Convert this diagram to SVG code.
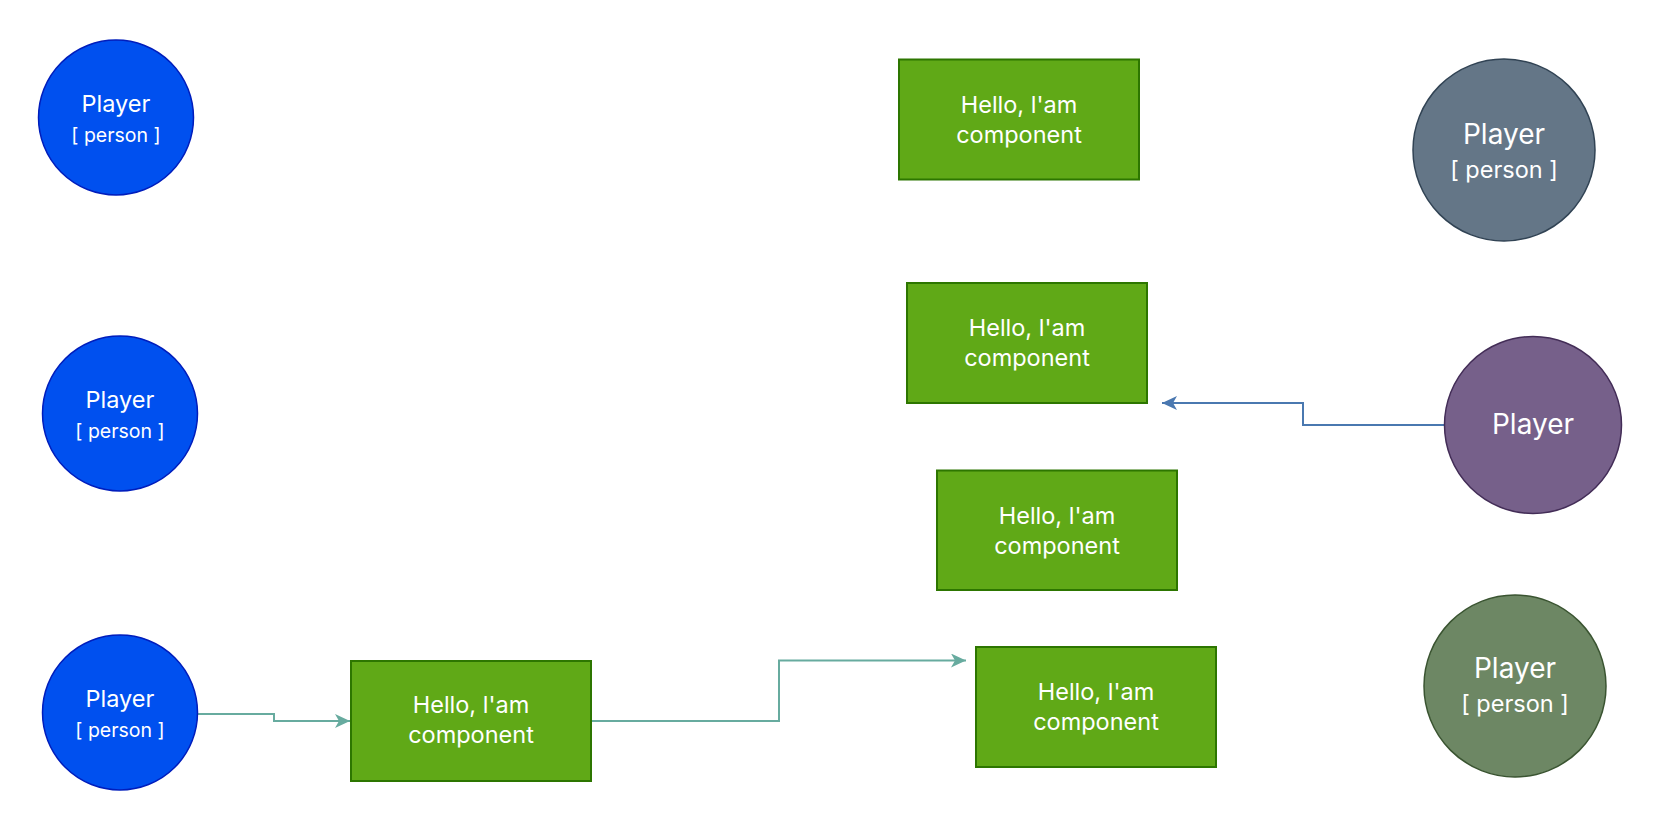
<svg xmlns="http://www.w3.org/2000/svg" width="1660" height="824" viewBox="0 0 1660 824">
<defs>
<style>
text{font-family:Inter,"Noto Sans","Liberation Sans",sans-serif;fill:#ffffff;text-anchor:middle}
.comp rect{fill:#60a917;stroke:#2d7600;stroke-width:2}
.comp text{font-size:23.5px}
.pb circle{fill:#0050ef;stroke:#001dbc;stroke-width:1.5}
.ps{font-size:23.5px}
.pss{font-size:19.5px}
.pl{font-size:28px}
.pls{font-size:23.5px}
.conn path{fill:none;stroke-width:2}
</style>
<marker id="at" markerUnits="userSpaceOnUse" markerWidth="16" markerHeight="16" refX="15" refY="7" orient="auto">
<path d="M0,0 L15,7 L0,14 L4,7 Z" fill="#67ab9f"/>
</marker>
<marker id="ab" markerUnits="userSpaceOnUse" markerWidth="16" markerHeight="16" refX="15" refY="7" orient="auto">
<path d="M0,0 L15,7 L0,14 L4,7 Z" fill="#4a78b0"/>
</marker>
</defs>
<rect width="1660" height="824" fill="#ffffff"/>
<g id="connectors" class="conn">
<path d="M197,714 H274 V721 H350" stroke="#67ab9f" marker-end="url(#at)"/>
<path d="M591,721 H779 V660.5 H966" stroke="#67ab9f" marker-end="url(#at)"/>
<path d="M1444,425 H1303 V403 H1162" stroke="#4a78b0" marker-end="url(#ab)"/>
</g>
<g id="player-tl" class="pb">
<circle cx="116" cy="117.5" r="77.5"/>
<text class="ps" x="116" y="112">Player</text>
<text class="pss" x="116" y="142">[ person ]</text>
</g>
<g id="player-ml" class="pb">
<circle cx="120" cy="413.5" r="77.5"/>
<text class="ps" x="120" y="407.5">Player</text>
<text class="pss" x="120" y="438">[ person ]</text>
</g>
<g id="player-bl" class="pb">
<circle cx="120" cy="712.5" r="77.5"/>
<text class="ps" x="120" y="707">Player</text>
<text class="pss" x="120" y="737">[ person ]</text>
</g>
<g id="comp-1" class="comp">
<rect x="899" y="59.5" width="240" height="120"/>
<text x="1019" y="113">Hello, l'am</text>
<text x="1019" y="143">component</text>
</g>
<g id="comp-2" class="comp">
<rect x="907" y="283" width="240" height="120"/>
<text x="1027" y="336">Hello, l'am</text>
<text x="1027" y="366">component</text>
</g>
<g id="comp-3" class="comp">
<rect x="937" y="470.5" width="240" height="119.5"/>
<text x="1057" y="524">Hello, l'am</text>
<text x="1057" y="554">component</text>
</g>
<g id="comp-4" class="comp">
<rect x="976" y="647" width="240" height="120"/>
<text x="1096" y="699.5">Hello, l'am</text>
<text x="1096" y="729.5">component</text>
</g>
<g id="comp-bl" class="comp">
<rect x="351" y="661" width="240" height="120"/>
<text x="471" y="713">Hello, l'am</text>
<text x="471" y="743">component</text>
</g>
<g id="player-tr">
<circle cx="1504" cy="150" r="91" fill="#647687" stroke="#314354" stroke-width="1.5"/>
<text class="pl" x="1504" y="144">Player</text>
<text class="pls" x="1504" y="178">[ person ]</text>
</g>
<g id="player-purple">
<circle cx="1533" cy="425" r="88.5" fill="#76608a" stroke="#432d57" stroke-width="1.5"/>
<text class="pl" x="1533" y="434">Player</text>
</g>
<g id="player-green">
<circle cx="1515" cy="686" r="91" fill="#6d8764" stroke="#3a5431" stroke-width="1.5"/>
<text class="pl" x="1515" y="678">Player</text>
<text class="pls" x="1515" y="712">[ person ]</text>
</g>
</svg>
